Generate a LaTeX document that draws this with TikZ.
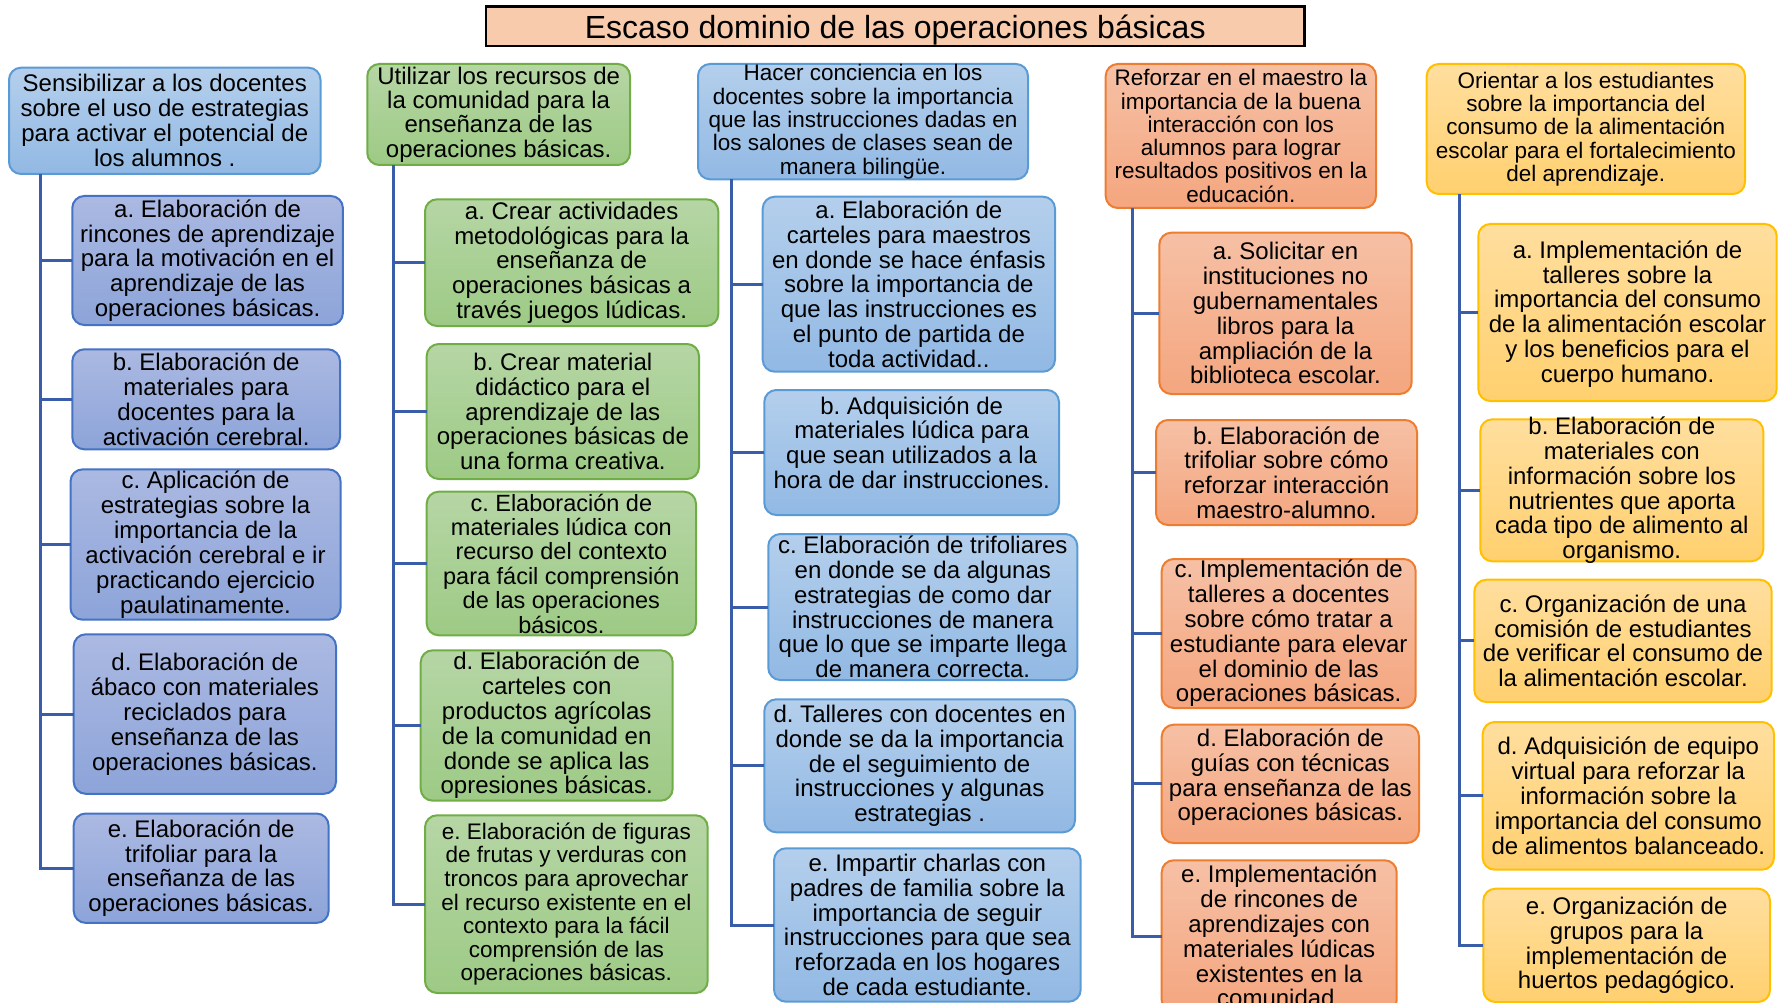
\documentclass[tikz,border=0pt]{standalone}
\usepackage{fontspec}
\setmainfont{Liberation Sans}
\frenchspacing
\definecolor{bluT}{HTML}{B4CFEC}\definecolor{bluB}{HTML}{92B9E4}\definecolor{bluD}{HTML}{5B9BD5}
\definecolor{perT}{HTML}{ABB9E2}\definecolor{perB}{HTML}{8DA4D9}\definecolor{perD}{HTML}{4472C4}
\definecolor{grnT}{HTML}{B6D6A5}\definecolor{grnB}{HTML}{9DCA85}\definecolor{grnD}{HTML}{70AD47}
\definecolor{orgT}{HTML}{F6C0A5}\definecolor{orgB}{HTML}{F4A67F}\definecolor{orgD}{HTML}{ED7D31}
\definecolor{yelT}{HTML}{FFDE9E}\definecolor{yelB}{HTML}{FFD06F}\definecolor{yelD}{HTML}{FFC000}
\definecolor{connC}{HTML}{3A5DA9}
\definecolor{titleF}{HTML}{F8CBAD}
\tikzset{
  boxbase/.style={inner sep=0pt, outer sep=0pt, rounded corners=12pt, line width=2pt},
  bluebox/.style={boxbase, top color=bluT, bottom color=bluB, draw=bluD},
  perbox/.style={boxbase, top color=perT, bottom color=perB, draw=perD},
  grnbox/.style={boxbase, top color=grnT, bottom color=grnB, draw=grnD},
  orgbox/.style={boxbase, top color=orgT, bottom color=orgB, draw=orgD},
  yelbox/.style={boxbase, top color=yelT, bottom color=yelB, draw=yelD},
  titlebox/.style={inner sep=0pt, outer sep=0pt, fill=titleF, draw=black, line width=2.7pt},
  conn/.style={draw=connC, line width=3pt},
}
\newcommand\fsub{\fontsize{24}{24.8}\selectfont}
\newcommand\fhd{\fontsize{22.5}{23.3}\selectfont}
\newcommand\bx[8]{%
  \pgfmathsetmacro\bw{#5-#3}\pgfmathsetmacro\bh{#6-#4}%
  \node[#2] (#1) at ({(#3+#5)/2},{(#4+#6)/2}) {\parbox[c][\bh pt][c]{\bw pt}{\centering #7 #8}};}
\begin{document}
\begin{tikzpicture}[x=1pt,y=-1pt]
\useasboundingbox (0,0) rectangle (1780,1003);
% title
\bx{title}{titlebox}{486}{6.5}{1304.5}{46}{\fontsize{32}{34}\selectfont}{\vspace*{7pt}Escaso dominio de las operaciones básicas}
% column 1
\bx{h1}{bluebox}{9}{67.7}{320.5}{174}{\fontsize{24}{25}\selectfont}{Sensibilizar a los docentes\\sobre el uso de estrategias\\para activar el potencial de\\los alumnos .}
\bx{c1a}{perbox}{72.3}{196}{342.9}{325}{\fsub}{a. Elaboración de\\rincones de aprendizaje\\para la motivación en el\\aprendizaje de las\\operaciones básicas.}
\bx{c1b}{perbox}{72.3}{349.3}{340}{449.3}{\fsub}{b. Elaboración de\\materiales para\\docentes para la\\activación cerebral.}
\bx{c1c}{perbox}{70.5}{469.4}{340.6}{619.7}{\fontsize{24}{25}\selectfont}{c. Aplicación de\\estrategias sobre la\\importancia de la\\activación cerebral e ir\\practicando ejercicio\\paulatinamente.}
\bx{c1d}{perbox}{73.7}{634.3}{336}{793.8}{\fsub}{d. Elaboración de\\ábaco con materiales\\reciclados para\\enseñanza de las\\operaciones básicas.}
\bx{c1e}{perbox}{73.7}{813.5}{328.6}{922.9}{\fsub}{e. Elaboración de\\trifoliar para la\\enseñanza de las\\operaciones básicas.}
% column 2
\bx{h2}{grnbox}{367.3}{64}{630}{165}{\fontsize{24}{24.2}\selectfont}{Utilizar los recursos de\\la comunidad para la\\enseñanza de las\\operaciones básicas.}
\bx{c2a}{grnbox}{425}{199.3}{718.3}{326}{\fsub}{a. Crear actividades\\metodológicas para la\\enseñanza de\\operaciones básicas a\\través juegos lúdicas.}
\bx{c2b}{grnbox}{426.7}{344}{699}{479}{\fsub}{b. Crear material\\didáctico para el\\aprendizaje de las\\operaciones básicas de\\una forma creativa.}
\bx{c2c}{grnbox}{426.7}{491.7}{696}{635.3}{\fontsize{23.5}{24.4}\selectfont}{c. Elaboración de\\materiales lúdica con\\recurso del contexto\\para fácil comprensión\\de las operaciones\\básicos.}
\bx{c2d}{grnbox}{420.7}{650.3}{672.7}{800.7}{\fsub}{d. Elaboración de\\carteles con\\productos agrícolas\\de la comunidad en\\donde se aplica las\\opresiones básicas.}
\bx{c2e}{grnbox}{425}{815.3}{707.7}{993}{\fontsize{22.5}{23.6}\selectfont}{e. Elaboración de figuras\\de frutas y verduras con\\troncos para aprovechar\\el recurso existente en el\\contexto para la fácil\\comprensión de las\\operaciones básicas.}
% column 3
\bx{h3}{bluebox}{698}{64}{1028}{179.3}{\fhd}{Hacer conciencia en los\\docentes sobre la importancia\\que las instrucciones dadas en\\los salones de clases sean de\\manera bilingüe.}
\bx{c3a}{bluebox}{762.7}{196.7}{1055}{371.7}{\fsub}{a. Elaboración de\\carteles para maestros\\en donde se hace énfasis\\sobre la importancia de\\que las instrucciones es\\el punto de partida de\\toda actividad..}
\bx{c3b}{bluebox}{764.3}{390}{1059}{515}{\fsub}{b. Adquisición de\\materiales lúdica para\\que sean utilizados a la\\hora de dar instrucciones.\par\vspace*{20pt}}
\bx{c3c}{bluebox}{768.3}{534}{1077.3}{680}{\fsub}{c. Elaboración de trifoliares\\en donde se da algunas\\estrategias de como dar\\instrucciones de manera\\que lo que se imparte llega\\de manera correcta.}
\bx{c3d}{bluebox}{764.3}{699.3}{1075}{832.3}{\fsub}{d. Talleres con docentes en\\donde se da la importancia\\de el seguimiento de\\instrucciones y algunas\\estrategias .}
\bx{c3e}{bluebox}{774}{848.3}{1080.7}{1001.7}{\fsub}{e. Impartir charlas con\\padres de familia sobre la\\importancia de seguir\\instrucciones para que sea\\reforzada en los hogares\\de cada estudiante.}
% column 4
\bx{h4}{orgbox}{1105.7}{64}{1376}{208}{\fhd}{Reforzar en el maestro la\\importancia de la buena\\interacción con los\\alumnos para lograr\\resultados positivos en la\\educación.}
\bx{c4a}{orgbox}{1159.3}{232.7}{1411.7}{394}{\fsub}{a. Solicitar en\\instituciones no\\gubernamentales\\libros para la\\ampliación de la\\biblioteca escolar.}
\bx{c4b}{orgbox}{1156}{420}{1417}{525}{\fsub}{b. Elaboración de\\trifoliar sobre cómo\\reforzar interacción\\maestro-alumno.}
\bx{c4c}{orgbox}{1161.7}{559}{1415.7}{708}{\fsub}{c. Implementación de\\talleres a docentes\\sobre cómo tratar a\\estudiante para elevar\\el dominio de las\\operaciones básicas.}
\bx{c4d}{orgbox}{1161.7}{724.7}{1419}{843}{\fsub}{d. Elaboración de\\guías con técnicas\\para enseñanza de las\\operaciones básicas.\par\vspace*{13pt}}
\bx{c4e}{orgbox}{1161.7}{860.3}{1396.7}{1012}{\fsub}{e. Implementación\\de rincones de\\aprendizajes con\\materiales lúdicas\\existentes en la\\comunidad.}
% column 5
\bx{h5}{yelbox}{1426.7}{64}{1745}{194}{\fhd}{Orientar a los estudiantes\\sobre la importancia del\\consumo de la alimentación\\escolar para el fortalecimiento\\del aprendizaje.}
\bx{c5a}{yelbox}{1478.3}{224}{1776.7}{401}{\fsub}{\vspace*{3pt}a. Implementación de\\talleres sobre la\\importancia del consumo\\de la alimentación escolar\\y los beneficios para el\\cuerpo humano.}
\bx{c5b}{yelbox}{1480.3}{419.3}{1763.3}{561.3}{\fsub}{b. Elaboración de\\materiales con\\información sobre los\\nutrientes que aporta\\cada tipo de alimento al\\organismo.}
\bx{c5c}{yelbox}{1474.3}{579.7}{1771.7}{702}{\fsub}{c. Organización de una\\comisión de estudiantes\\de verificar el consumo de\\la alimentación escolar.}
\bx{c5d}{yelbox}{1482.7}{722}{1774}{869.7}{\fsub}{d. Adquisición de equipo\\virtual para reforzar la\\información sobre la\\importancia del consumo\\de alimentos balanceado.}
\bx{c5e}{yelbox}{1483.3}{888.7}{1770}{1002}{\fsub}{e. Organización de\\grupos para la\\implementación de\\huertos pedagógico.}
% connectors
\coordinate (t1) at (40.2,0);
\coordinate (t2) at (393.3,0);
\coordinate (t3) at (731.7,0);
\coordinate (t4) at (1132.7,0);
\coordinate (t5) at (1459,0);
\foreach \c/\t in {1/t1,2/t2,3/t3,4/t4,5/t5}{
  \draw[conn] (\t |- h\c.south) |- (c\c e.west);
  \foreach \k in {a,b,c,d}{
    \draw[conn] (\t |- c\c\k.west) -- (c\c\k.west);
  }
}
\end{tikzpicture}
\end{document}
